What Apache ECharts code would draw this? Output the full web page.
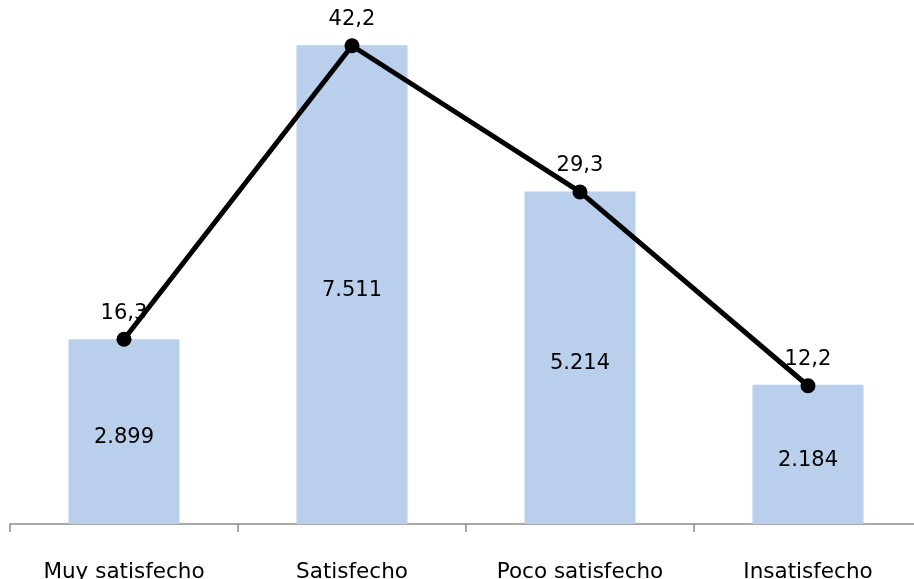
<!DOCTYPE html>
<html><head><meta charset="utf-8">
<script src="https://cdn.jsdelivr.net/npm/echarts@6/dist/echarts.min.js"></script>
<style>html,body{margin:0;padding:0;background:#fff}#c{width:914px;height:579px}</style>
</head><body><div id="c"></div>
<script>
const categories = ['Muy satisfecho', 'Satisfecho', 'Poco satisfecho', 'Insatisfecho'];
const counts = [2899, 7511, 5214, 2184];
const percents = [16.3, 42.2, 29.3, 12.2];

const chart = echarts.init(document.getElementById('c'));
const font = 'DejaVu Sans';
chart.setOption({
  animation: false,
  grid: { left: 10, right: -8, top: 14, bottom: 55, containLabel: false, outerBoundsMode: 'none' },
  xAxis: {
    type: 'category', data: categories,
    axisLine: { lineStyle: { color: '#8c8c8c', width: 1.5 } },
    axisTick: { show: true, length: 8, lineStyle: { color: '#8c8c8c', width: 1.5 } },
    axisLabel: { margin: 37, fontSize: 21.5, color: '#000', fontFamily: font }
  },
  yAxis: [
    { type: 'value', min: 0, max: 8000, show: false, splitLine: { show: false } },
    { type: 'value', min: 0, max: 45, show: false, splitLine: { show: false } }
  ],
  series: [
    {
      type: 'bar', data: counts, yAxisIndex: 0, barWidth: 111,
      itemStyle: { color: '#b9cfeb' },
      label: {
        show: true, position: 'inside', offset: [0, 6], fontSize: 21, color: '#000', fontFamily: font,
        formatter: p => p.value.toLocaleString('de-DE')
      }
    },
    {
      type: 'line', data: percents, yAxisIndex: 1,
      lineStyle: { color: '#000', width: 5 },
      itemStyle: { color: '#000' },
      symbol: 'circle', symbolSize: 15,
      label: {
        show: true, position: 'top', distance: 8, fontSize: 21, color: '#000', fontFamily: font,
        formatter: p => p.value.toFixed(1).replace('.', ',')
      }
    }
  ]
});
</script></body></html>
